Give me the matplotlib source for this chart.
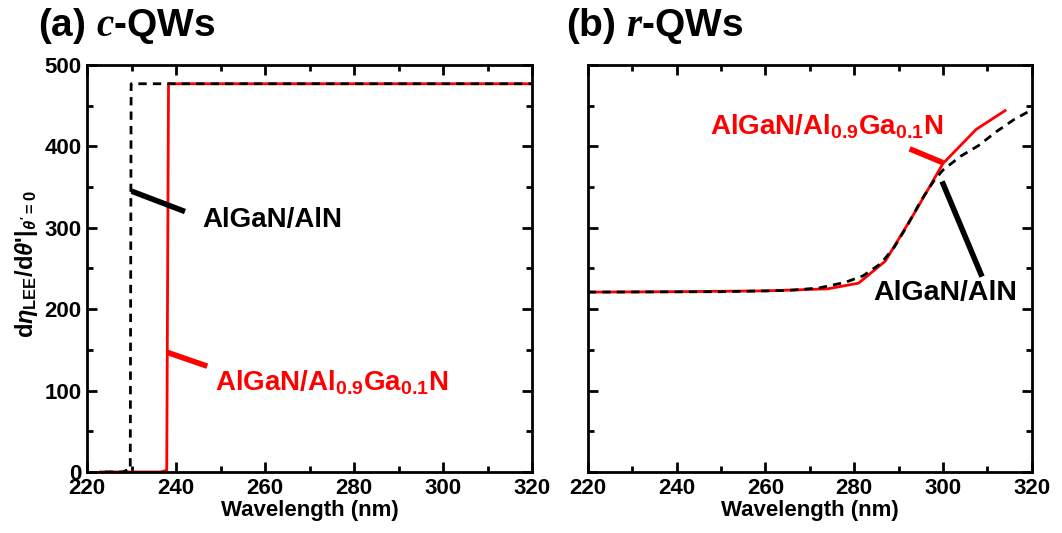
import matplotlib
matplotlib.use("Agg")
import matplotlib.pyplot as plt
from matplotlib.ticker import MultipleLocator

plt.rcParams["font.family"] = ["Liberation Sans", "DejaVu Sans"]
plt.rcParams["font.weight"] = "bold"
plt.rcParams["mathtext.fontset"] = "custom"
plt.rcParams["mathtext.rm"] = "Liberation Sans:bold"
plt.rcParams["mathtext.it"] = "Liberation Sans:bold:italic"
plt.rcParams["mathtext.bf"] = "Liberation Sans:bold"
plt.rcParams["mathtext.sf"] = "Liberation Serif:bold:italic"

# (a) c-plane QWs: step curves
c_aln_wl = [224.0, 228.0, 229.3, 229.7, 229.9, 320.0]
c_aln_val = [0.0, 0.0, 3.0, 3.0, 477.0, 477.0]
c_algan_wl = [223.0, 236.5, 237.9, 238.3, 320.0]
c_algan_val = [0.0, 0.0, 2.0, 477.0, 477.0]

# (b) r-plane QWs
r_aln_wl = [220, 250, 265, 272, 278, 282, 286, 289, 292, 295, 298, 300,
            304, 308, 312, 316, 320]
r_aln_val = [221, 221.5, 223, 226, 233, 241, 256, 276, 303, 333, 358, 371,
             388, 401, 418, 433, 445]
r_algan_wl = [220, 240, 260, 274, 281, 287, 294, 300, 307.5, 314]
r_algan_val = [221, 221.5, 222.5, 225, 232, 259, 322, 379, 421, 444]

LABEL_ALN = "AlGaN/AlN"
LABEL_ALGAN = r"AlGaN/Al$_{0.9}$Ga$_{0.1}$N"

fig = plt.figure(figsize=(10.62, 5.33), dpi=100)
ax1 = fig.add_axes([0.082, 0.1145, 0.419, 0.7635])
ax2 = fig.add_axes([0.5535, 0.1145, 0.418, 0.7635])

for ax in (ax1, ax2):
    ax.set_xlim(220, 320)
    ax.set_ylim(0, 500)
    ax.xaxis.set_major_locator(MultipleLocator(20))
    ax.xaxis.set_minor_locator(MultipleLocator(10))
    ax.yaxis.set_major_locator(MultipleLocator(100))
    ax.yaxis.set_minor_locator(MultipleLocator(50))
    ax.tick_params(which="both", direction="in", top=True, right=True,
                   width=2, labelsize=16, pad=4)
    ax.tick_params(which="major", length=7)
    ax.tick_params(which="minor", length=4)
    for s in ax.spines.values():
        s.set_linewidth(2)
    for lab in ax.get_xticklabels() + ax.get_yticklabels():
        lab.set_fontweight("bold")
    ax.set_xlabel("Wavelength (nm)", fontsize=16, fontweight="bold", labelpad=1)

ax2.tick_params(labelleft=False)

ax1.plot(c_algan_wl, c_algan_val, color="red", lw=2)
ax1.plot(c_aln_wl, c_aln_val, color="black", lw=2, ls=(0, (3, 2.2)))
ax1.set_ylabel(r"d$\eta_{\rm LEE}$/d$\theta$'|$_{\theta' = 0}$",
               fontsize=17, fontweight="bold", labelpad=2)
ax1.yaxis.set_label_coords(-0.105, 0.51)

ax2.plot(r_algan_wl, r_algan_val, color="red", lw=2)
ax2.plot(r_aln_wl, r_aln_val, color="black", lw=2, ls=(0, (3, 2.2)))

# pointer lines and labels, panel (a)
ax1.plot([230.0, 242.0], [345, 320], color="black", lw=4, solid_capstyle="butt")
ax1.text(246, 310, LABEL_ALN, fontsize=20, fontweight="bold", va="center")
ax1.plot([238.0, 247.0], [147, 130], color="red", lw=4, solid_capstyle="butt")
ax1.text(248.8, 110, LABEL_ALGAN, fontsize=20, fontweight="bold", color="red",
         va="center")

# pointer lines and labels, panel (b)
ax2.plot([292.5, 300.0], [397, 380], color="red", lw=4, solid_capstyle="butt")
ax2.text(247.5, 424, LABEL_ALGAN, fontsize=20, fontweight="bold", color="red",
         va="center")
ax2.plot([299.8, 308.8], [357, 240], color="black", lw=4, solid_capstyle="butt")
ax2.text(284.2, 220, LABEL_ALN, fontsize=20.5, fontweight="bold", va="center")

fig.text(0.036, 0.952, r"(a) $\mathsf{c}$-QWs", fontsize=28, fontweight="bold",
         va="center")
fig.text(0.533, 0.952, r"(b) $\mathsf{r}$-QWs", fontsize=28, fontweight="bold",
         va="center")

fig.savefig("out.png", dpi=100)
